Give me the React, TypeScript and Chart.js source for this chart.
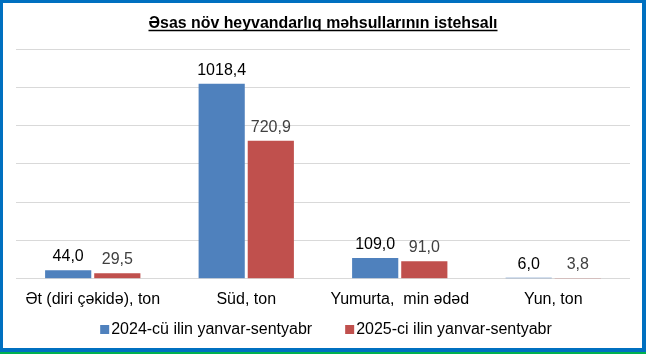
import React, { useEffect, useRef } from 'react';
import { Chart, registerables } from 'chart.js';

Chart.register(...registerables);

const chartTitle = 'Əsas növ heyvandarlıq məhsullarının istehsalı';
const categories = ['Ət (diri çəkidə), ton', 'Süd, ton', 'Yumurta,  min ədəd', 'Yun, ton'];
const series2024 = [44.0, 1018.4, 109.0, 6.0];
const series2025 = [29.5, 720.9, 91.0, 3.8];
const seriesNames = ['2024-cü ilin yanvar-sentyabr', '2025-ci ilin yanvar-sentyabr'];
const seriesColors = ['#4F81BD', '#C0504D'];
const labelColors = ['#000000', '#404040'];
const yMax = 1200;
const yStep = 200;

const FONT = '"Liberation Sans", Arial, sans-serif';

const fmt = (v: number) => v.toFixed(1).replace('.', ',');

const titlePlugin = {
  id: 'ulTitle',
  afterDraw(chart: any) {
    const ctx = chart.ctx;
    ctx.save();
    ctx.font = `bold 16px ${FONT}`;
    ctx.fillStyle = '#000';
    ctx.textAlign = 'center';
    ctx.textBaseline = 'alphabetic';
    const cx = 320;
    const maxW = 349;
    const w = Math.min(ctx.measureText(chartTitle).width, maxW);
    ctx.fillText(chartTitle, cx, 25, maxW);
    ctx.strokeStyle = '#000';
    ctx.lineWidth = 1.5;
    ctx.beginPath();
    ctx.moveTo(cx - w / 2, 27.5);
    ctx.lineTo(cx + w / 2, 27.5);
    ctx.stroke();
    ctx.restore();
  },
};

const dataLabelPlugin = {
  id: 'dataLabels',
  afterDatasetsDraw(chart: any) {
    const ctx = chart.ctx;
    ctx.save();
    ctx.font = `16px ${FONT}`;
    ctx.textAlign = 'center';
    ctx.textBaseline = 'alphabetic';
    chart.data.datasets.forEach((ds: any, di: number) => {
      const meta = chart.getDatasetMeta(di);
      ctx.fillStyle = labelColors[di];
      meta.data.forEach((el: any, i: number) => {
        ctx.fillText(fmt(ds.data[i]), el.x, el.y - 9);
      });
    });
    ctx.restore();
  },
};

const legendPlugin = {
  id: 'customLegend',
  afterDraw(chart: any) {
    const ctx = chart.ctx;
    ctx.save();
    ctx.font = `16px ${FONT}`;
    ctx.textBaseline = 'alphabetic';
    ctx.textAlign = 'left';
    const box = 9;
    const gap = 2;
    const spacing = 33;
    const widths = chart.data.datasets.map((d: any) => ctx.measureText(d.label).width);
    const total = widths.reduce((a: number, w: number) => a + box + gap + w, 0) + spacing * (widths.length - 1);
    let x = 323 - total / 2;
    const baseY = 331;
    chart.data.datasets.forEach((d: any, i: number) => {
      ctx.fillStyle = d.backgroundColor;
      ctx.fillRect(x, baseY - 9, box, box);
      ctx.fillStyle = '#000';
      ctx.fillText(d.label, x + box + gap, baseY);
      x += box + gap + widths[i] + spacing;
    });
    ctx.restore();
  },
};

export default function App() {
  const ref = useRef<HTMLCanvasElement>(null);

  useEffect(() => {
    if (!ref.current) return;
    Chart.defaults.font.family = FONT;
    const chart = new Chart(ref.current, {
      type: 'bar',
      data: {
        labels: categories,
        datasets: [
          { label: seriesNames[0], data: series2024, backgroundColor: seriesColors[0] },
          { label: seriesNames[1], data: series2025, backgroundColor: seriesColors[1] },
        ],
      },
      options: {
        animation: false,
        responsive: false,
        maintainAspectRatio: false,
        layout: { padding: { top: 46, left: 13, right: 12, bottom: 28 } },
        datasets: { bar: { categoryPercentage: 0.64, barPercentage: 0.94 } } as any,
        plugins: {
          legend: { display: false },
          title: { display: false },
          tooltip: { enabled: false },
        },
        scales: {
          x: {
            grid: { display: false, drawTicks: false },
            border: { display: false },
            ticks: { color: '#000', font: { size: 16, family: FONT }, padding: 11, maxRotation: 0, autoSkip: false },
          },
          y: {
            min: 0,
            max: yMax,
            ticks: { display: false, stepSize: yStep },
            grid: { color: '#D9D9D9', drawTicks: false, lineWidth: 1 },
            border: { display: false },
          },
        },
      },
      plugins: [titlePlugin, dataLabelPlugin, legendPlugin],
    });
    return () => chart.destroy();
  }, []);

  return (
    <div style={{ position: 'absolute', left: 0, top: 0, width: 646, height: 354, background: '#00B050' }}>
      <div
        style={{
          position: 'absolute',
          left: 0,
          top: 0,
          width: 646,
          height: 352,
          boxSizing: 'border-box',
          background: '#fff',
          borderStyle: 'solid',
          borderColor: '#0070C0',
          borderWidth: '3px 4px 4px 3px',
        }}
      >
        <canvas ref={ref} width={639} height={345} style={{ display: 'block' }} />
      </div>
    </div>
  );
}
